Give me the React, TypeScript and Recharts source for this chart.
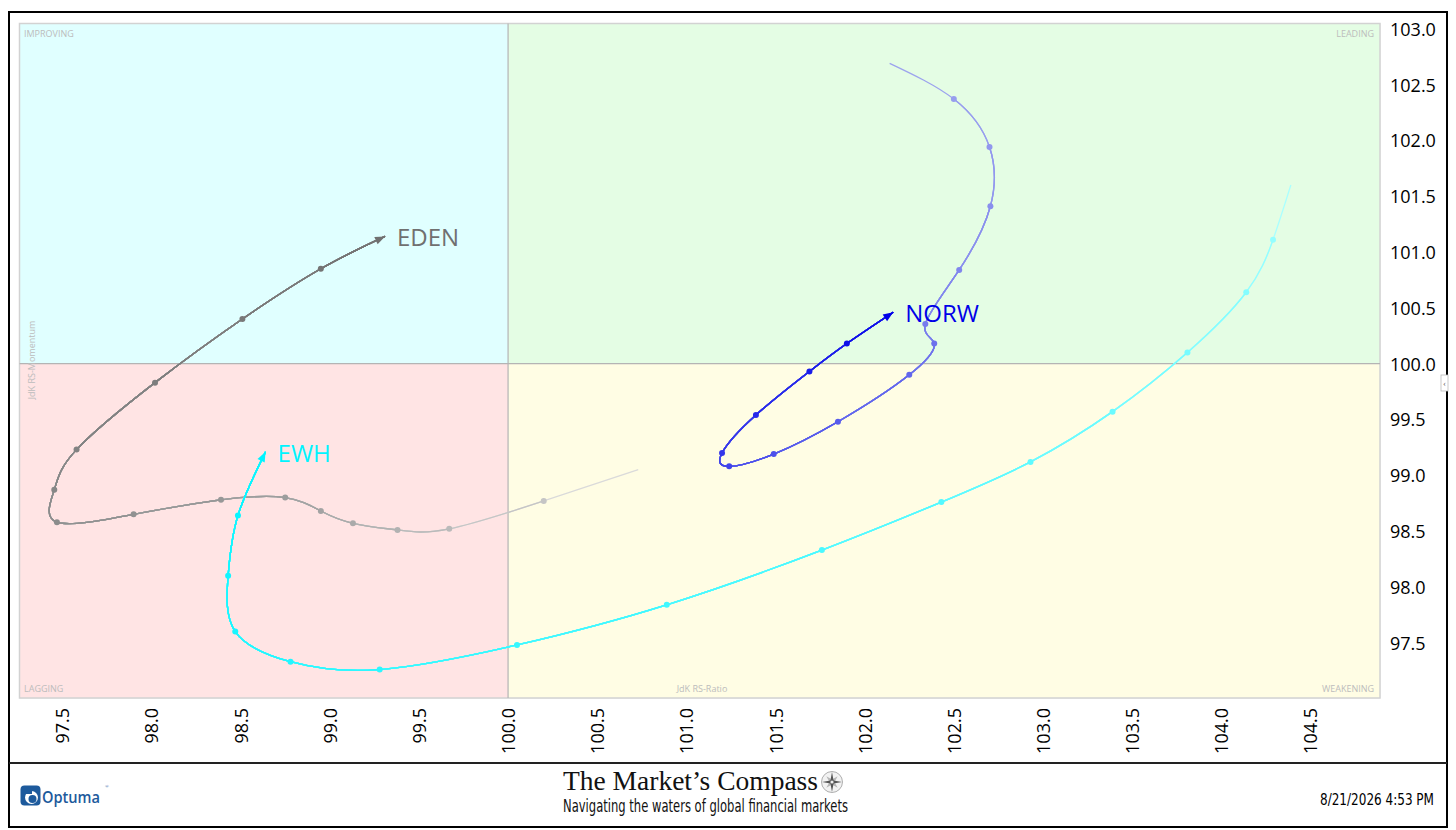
import React from 'react';
import {
  ScatterChart,
  Scatter,
  XAxis,
  YAxis,
  CartesianGrid,
  ReferenceArea,
  ReferenceLine
} from 'recharts';

// axis ticks
const xTicks = [97.5, 98.0, 98.5, 99.0, 99.5, 100.0, 100.5, 101.0, 101.5, 102.0, 102.5, 103.0, 103.5, 104.0, 104.5];
const yTicks = [97.5, 98.0, 98.5, 99.0, 99.5, 100.0, 100.5, 101.0, 101.5, 102.0, 102.5, 103.0];

// tails, oldest first (JdK RS-Ratio / JdK RS-Momentum)
const edenRatio = [100.73, 100.2, 99.67, 99.38, 99.13, 98.95, 98.75, 98.39, 97.9, 97.47, 97.455, 97.58, 98.02, 98.51, 98.95, 99.31];
const edenMomentum = [99.05, 98.77, 98.52, 98.51, 98.57, 98.68, 98.8, 98.78, 98.65, 98.58, 98.87, 99.23, 99.83, 100.4, 100.85, 101.14];

const ewhRatio = [104.39, 104.29, 104.14, 103.81, 103.39, 102.93, 102.43, 101.76, 100.89, 100.05, 99.28, 98.78, 98.47, 98.43, 98.485, 98.64];
const ewhMomentum = [101.6, 101.11, 100.64, 100.1, 99.57, 99.12, 98.76, 98.33, 97.84, 97.48, 97.26, 97.33, 97.6, 98.1, 98.64, 99.21];

const norwRatio = [102.14, 102.5, 102.7, 102.705, 102.53, 102.34, 102.39, 102.25, 101.85, 101.49, 101.24, 101.2, 101.39, 101.69, 101.9, 102.16];
const norwMomentum = [102.69, 102.37, 101.94, 101.41, 100.84, 100.355, 100.18, 99.9, 99.48, 99.19, 99.08, 99.2, 99.54, 99.93, 100.18, 100.46];

const seriesNames = ['EDEN', 'EWH', 'NORW'];

const X_DOMAIN: [number, number] = [97.26, 104.89];
const Y_DOMAIN: [number, number] = [97.005, 103.047];
const CENTER = 100;

// chart layout
const W = 1456;
const H = 830;
const PLOT_LEFT = 19.5;
const PLOT_TOP = 23.5;
const PLOT_RIGHT = 1380;
const PLOT_BOTTOM = 698;
const PX_X = (PLOT_RIGHT - PLOT_LEFT) / (X_DOMAIN[1] - X_DOMAIN[0]);
const PX_Y = (PLOT_BOTTOM - PLOT_TOP) / (Y_DOMAIN[1] - Y_DOMAIN[0]);

type RGB = [number, number, number];

interface Series {
  name: string;
  ratio: number[];
  momentum: number[];
  tail: RGB;
  head: RGB;
  fade: number;
}

const series: Series[] = [
  { name: seriesNames[0], ratio: edenRatio, momentum: edenMomentum, tail: [218, 218, 218], head: [112, 112, 112], fade: 0.6 },
  { name: seriesNames[1], ratio: ewhRatio, momentum: ewhMomentum, tail: [170, 255, 255], head: [0, 244, 255], fade: 0.75 },
  { name: seriesNames[2], ratio: norwRatio, momentum: norwMomentum, tail: [156, 163, 238], head: [0, 0, 232], fade: 1.3 }
];

const mix = (a: RGB, b: RGB, t: number) =>
  `rgb(${a.map((v, k) => Math.round(v + (b[k] - v) * t)).join(',')})`;

const colorAt = (s: Series, i: number) => mix(s.tail, s.head, Math.pow(i / (s.ratio.length - 1), s.fade));

// share of the tail's length reached at each point (chord lengths in pixels)
const lengthShares = (s: Series) => {
  const cum = [0];
  for (let i = 1; i < s.ratio.length; i++) {
    const dx = (s.ratio[i] - s.ratio[i - 1]) * PX_X;
    const dy = (s.momentum[i] - s.momentum[i - 1]) * PX_Y;
    cum.push(cum[i - 1] + Math.hypot(dx, dy));
  }
  const total = cum[cum.length - 1];
  return cum.map((c) => (c / total) * 100);
};

const NoDot = () => <g />;

const XTick = ({ x, y, payload }: any) => (
  <text
    x={x}
    y={y}
    transform={`rotate(-90 ${x} ${y})`}
    textAnchor="end"
    dominantBaseline="central"
    fontSize={18}
    fontFamily="'Open Sans', sans-serif"
    fill="#000"
  >
    {Number(payload.value).toFixed(1)}
  </text>
);

const YTick = ({ x, y, payload }: any) => (
  <text
    x={x}
    y={y}
    textAnchor="start"
    dominantBaseline="central"
    fontSize={18}
    fontFamily="'Open Sans', sans-serif"
    fill="#000"
  >
    {Number(payload.value).toFixed(1)}
  </text>
);

const renderSeries = (s: Series) => {
  const n = s.ratio.length;
  const points = s.ratio.map((x, i) => ({ x, y: s.momentum[i], i }));
  const shares = lengthShares(s);

  // one overlay per point, each drawn from that point to the head
  const lines = points.slice(0, n - 1).map((_, i) => (
    <Scatter
      key={`${s.name}-line-${i}`}
      data={points}
      dataKey="y"
      fill="none"
      shape={NoDot}
      line={{
        stroke: colorAt(s, i),
        strokeWidth: 1.3,
        pathLength: 100,
        strokeDasharray: i === 0 ? undefined : `0 ${shares[i].toFixed(3)} 100`
      }}
      lineType="joint"
      lineJointType="natural"
      isAnimationActive={false}
    />
  ));

  const DotShape = (props: any) => (
    <circle cx={props.cx} cy={props.cy} r={3} fill={colorAt(s, props.payload.i)} />
  );

  // end tangent of the natural spline
  const dx = 1.25 * (s.ratio[n - 1] - s.ratio[n - 2]) - 0.25 * (s.ratio[n - 2] - s.ratio[n - 3]);
  const dy = 1.25 * (s.momentum[n - 1] - s.momentum[n - 2]) - 0.25 * (s.momentum[n - 2] - s.momentum[n - 3]);
  const ang = Math.atan2(-dy * PX_Y, dx * PX_X);

  const HeadShape = (props: any) => {
    const { cx, cy } = props;
    const ux = Math.cos(ang);
    const uy = Math.sin(ang);
    const len = 10;
    const half = 4;
    const bx = cx - ux * len;
    const by = cy - uy * len;
    const pts = `${cx},${cy} ${bx - uy * half},${by + ux * half} ${bx + uy * half},${by - ux * half}`;
    return (
      <g>
        <polygon points={pts} fill={colorAt(s, n - 1)} />
        <text
          x={cx + 12}
          y={cy + 10}
          fontSize={24}
          fontFamily="'Open Sans', sans-serif"
          fill={colorAt(s, n - 1)}
        >
          {s.name}
        </text>
      </g>
    );
  };

  return [
    ...lines,
    <Scatter
      key={`${s.name}-dots`}
      data={points.slice(1, n - 1)}
      dataKey="y"
      shape={DotShape}
      isAnimationActive={false}
    />,
    <Scatter
      key={`${s.name}-head`}
      data={points.slice(n - 1)}
      dataKey="y"
      shape={HeadShape}
      isAnimationActive={false}
    />
  ];
};

const quadLabel = { fontSize: 9, fontFamily: "'Open Sans', sans-serif", fill: '#bcbcbc' };

const Compass = ({ cx, cy }: { cx: number; cy: number }) => {
  const star = (r1: number, r2: number, rot: number) =>
    Array.from({ length: 8 }, (_, k) => {
      const a = rot + (k * Math.PI) / 4;
      const r = k % 2 === 0 ? r1 : r2;
      return `${cx + r * Math.sin(a)},${cy - r * Math.cos(a)}`;
    }).join(' ');
  return (
    <g>
      <circle cx={cx} cy={cy} r={10.5} fill="#f2f2f2" stroke="#9a9a9a" strokeWidth={0.8} />
      <polygon points={star(8, 2.5, Math.PI / 4)} fill="#b5b5b5" />
      <polygon points={star(10, 2.2, 0)} fill="#555" />
      <circle cx={cx} cy={cy} r={1.6} fill="#eee" />
    </g>
  );
};

export default function App() {
  return (
    <div style={{ position: 'absolute', left: 0, top: 0, width: W, height: H, background: '#fff' }}>
      <ScatterChart
        width={W}
        height={H}
        margin={{ top: PLOT_TOP, left: PLOT_LEFT, right: W - PLOT_RIGHT - 60, bottom: H - PLOT_BOTTOM - 60 }}
      >
        <XAxis
          type="number"
          dataKey="x"
          domain={X_DOMAIN}
          ticks={xTicks}
          allowDataOverflow
          axisLine={false}
          tickLine={false}
          tickSize={0}
          tickMargin={10}
          height={60}
          tick={<XTick />}
          interval={0}
        />
        <YAxis
          type="number"
          dataKey="y"
          orientation="right"
          domain={Y_DOMAIN}
          ticks={yTicks}
          allowDataOverflow
          axisLine={false}
          tickLine={false}
          tickSize={0}
          tickMargin={10}
          width={60}
          tick={<YTick />}
          interval={0}
        />
        <ReferenceArea x1={X_DOMAIN[0]} x2={CENTER} y1={CENTER} y2={Y_DOMAIN[1]} fill="#e0ffff" fillOpacity={1} />
        <ReferenceArea x1={CENTER} x2={X_DOMAIN[1]} y1={CENTER} y2={Y_DOMAIN[1]} fill="#e4fde4" fillOpacity={1} />
        <ReferenceArea x1={X_DOMAIN[0]} x2={CENTER} y1={Y_DOMAIN[0]} y2={CENTER} fill="#ffe4e4" fillOpacity={1} />
        <ReferenceArea x1={CENTER} x2={X_DOMAIN[1]} y1={Y_DOMAIN[0]} y2={CENTER} fill="#fffde4" fillOpacity={1} />
        <CartesianGrid stroke="#000" strokeOpacity={0.07} />
        <ReferenceLine x={CENTER} stroke="#b4b4b4" strokeWidth={1.2} />
        <ReferenceLine y={CENTER} stroke="#b4b4b4" strokeWidth={1.2} />
        <ReferenceArea
          x1={X_DOMAIN[0]}
          x2={X_DOMAIN[1]}
          y1={Y_DOMAIN[0]}
          y2={Y_DOMAIN[1]}
          fill="none"
          stroke="#d2d2d2"
          strokeWidth={1.5}
        />
        {series.map((s) => renderSeries(s))}
      </ScatterChart>

      <svg
        width={W}
        height={H}
        style={{ position: 'absolute', left: 0, top: 0, pointerEvents: 'none' }}
      >
        {/* quadrant captions */}
        <text x={24} y={37} {...quadLabel}>IMPROVING</text>
        <text x={1374} y={37} textAnchor="end" {...quadLabel}>LEADING</text>
        <text x={24} y={692} {...quadLabel}>LAGGING</text>
        <text x={1374} y={692} textAnchor="end" {...quadLabel}>WEAKENING</text>
        <text x={702} y={692} textAnchor="middle" {...quadLabel}>JdK RS-Ratio</text>
        <text x={35} y={360} textAnchor="middle" transform="rotate(-90 35 360)" {...quadLabel}>JdK RS-Momentum</text>

        {/* frame */}
        <rect x={9} y={12} width={1438} height={815} fill="none" stroke="#000" strokeWidth={2} />
        <line x1={9} x2={1447} y1={763} y2={763} stroke="#222" strokeWidth={2.2} />
        <rect x={1441} y={375} width={7} height={16} fill="#fff" stroke="#bbb" strokeWidth={0.8} />
        <text x={1444.5} y={386} textAnchor="middle" fontSize={9} fill="#666">‹</text>

        {/* footer */}
        <rect x={20.5} y={785.5} width={20} height={20} rx={4} fill="#1d5a9c" />
        <circle cx={31.5} cy={797.5} r={6.5} fill="#fff" />
        <circle cx={32.5} cy={799} r={4} fill="#1d5a9c" />
        <rect x={24} y={789} width={8} height={5} fill="#1d5a9c" />
        <text x={42} y={803} fontSize={16} fontWeight={600} fontFamily="'Open Sans', sans-serif" fill="#1d5a9c" textLength={58} lengthAdjust="spacingAndGlyphs">Optuma</text>
        <text x={105} y={788} fontSize={5} fill="#1d5a9c">®</text>

        <text x={563} y={790} fontSize={27} fontFamily="'Liberation Serif', 'DejaVu Serif', serif" fill="#111" textLength={255} lengthAdjust="spacingAndGlyphs">The Market’s Compass</text>
        <Compass cx={832} cy={782} />
        <text x={563} y={812} fontSize={17} fontFamily="'Liberation Sans Narrow', 'DejaVu Sans Condensed', sans-serif" fill="#111" textLength={285} lengthAdjust="spacingAndGlyphs">Navigating the waters of global financial markets</text>

        <text x={1434} y={805} textAnchor="end" fontSize={15} fontFamily="'Liberation Sans Narrow', 'DejaVu Sans Condensed', sans-serif" fill="#000" textLength={114} lengthAdjust="spacingAndGlyphs">8/21/2026 4:53 PM</text>
      </svg>
    </div>
  );
}
